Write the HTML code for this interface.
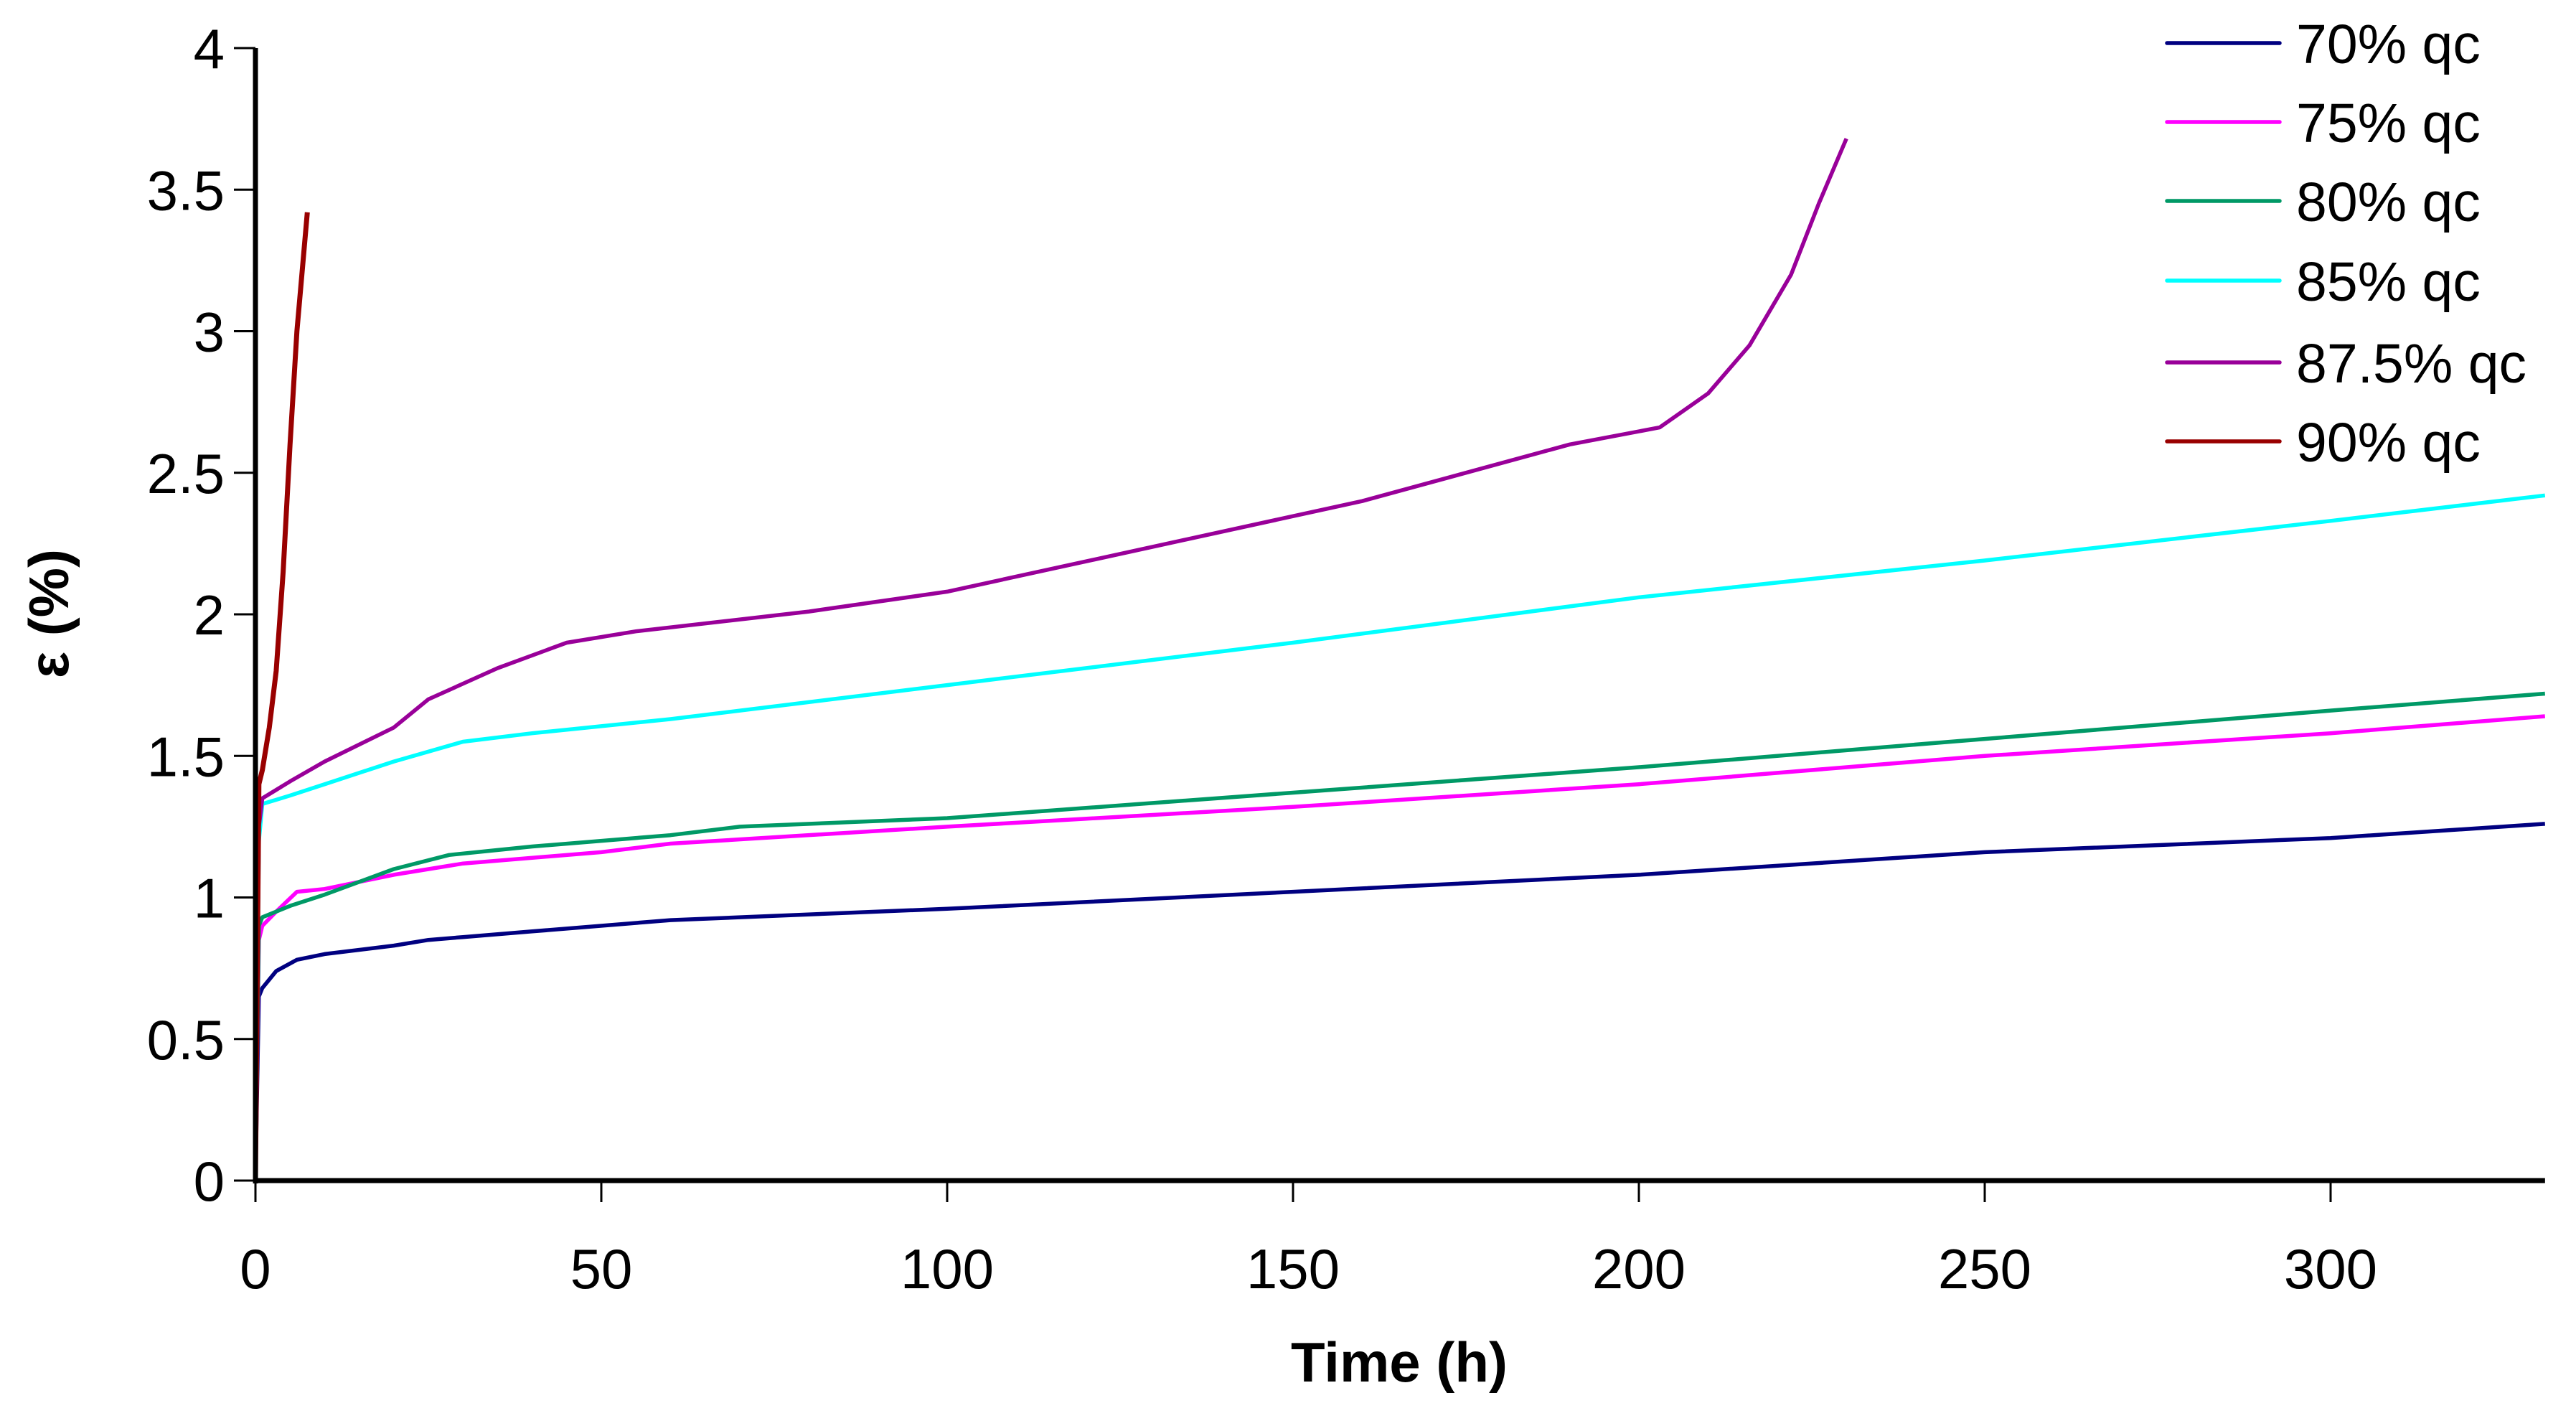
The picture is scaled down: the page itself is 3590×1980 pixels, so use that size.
<!DOCTYPE html>
<html><head><meta charset="utf-8"><style>
html,body{margin:0;padding:0;background:#fff;}
svg text{font-family:"Liberation Sans",Arial,sans-serif;fill:#000;}
</style></head><body>
<svg id="chart" width="3590" height="1975" viewBox="0 0 3590 1975" xmlns="http://www.w3.org/2000/svg">
<g id="grid"></g><g id="series"></g><g id="axes"></g><g id="legend"></g>
<text x="0" y="0" font-size="78" font-weight="bold" text-anchor="middle" transform="translate(95,855) rotate(-90)">ε (%)</text>
<text x="1950" y="1925" font-size="78" font-weight="bold" text-anchor="middle">Time (h)</text>
</svg>
<script>
const seriesNames = ["70% qc","75% qc","80% qc","85% qc","87.5% qc","90% qc"];
const seriesColors = ["#000080","#ff00ff","#009966","#00ffff","#990099","#990000"];
const xTicks = [0,50,100,150,200,250,300];
const yTicks = [0,0.5,1,1.5,2,2.5,3,3.5,4];
const s70 = [[0,0],[0.3,0.4],[0.5,0.65],[1,0.68],[3,0.74],[6,0.78],[10,0.8],[20,0.83],[25,0.85],[30,0.86],[40,0.88],[60,0.92],[100,0.96],[150,1.02],[200,1.08],[250,1.16],[300,1.21],[331,1.26]];
const s75 = [[0,0],[0.5,0.85],[1,0.9],[3,0.95],[6,1.02],[10,1.03],[20,1.08],[30,1.12],[50,1.16],[60,1.19],[100,1.25],[150,1.32],[200,1.4],[250,1.5],[300,1.58],[331,1.64]];
const s80 = [[0,0],[0.5,0.9],[1,0.93],[5,0.97],[10,1.01],[20,1.1],[28,1.15],[40,1.18],[60,1.22],[70,1.25],[100,1.28],[150,1.37],[200,1.46],[250,1.56],[300,1.66],[331,1.72]];
const s85 = [[0,0],[0.5,1.2],[1,1.33],[5,1.36],[10,1.4],[20,1.48],[30,1.55],[40,1.58],[60,1.63],[100,1.75],[150,1.9],[200,2.06],[250,2.19],[300,2.33],[331,2.42]];
const s875 = [[0,0],[0.5,1.25],[1,1.35],[5,1.41],[10,1.48],[20,1.6],[25,1.7],[35,1.81],[45,1.9],[55,1.94],[80,2.01],[100,2.08],[130,2.24],[160,2.4],[190,2.6],[203,2.66],[210,2.78],[216,2.95],[222,3.2],[226,3.45],[230,3.68]];
const s90 = [[0,0],[0.5,1.4],[1,1.45],[2,1.6],[3,1.8],[4,2.15],[5,2.6],[6,3.0],[7.5,3.42]];
const allSeries = [s70,s75,s80,s85,s875,s90];

const X0=356, XPX=9.64, XMAX=331, Y0=1645, YPX=394.5;
function xs(v){return X0+v*XPX;}
function ys(v){return Y0-v*YPX;}
const NS="http://www.w3.org/2000/svg";
function mk(tag,attrs,parent){const e=document.createElementNS(NS,tag);for(const k in attrs)e.setAttribute(k,attrs[k]);parent.appendChild(e);return e;}
const axes=document.getElementById('axes'), ser=document.getElementById('series'), leg=document.getElementById('legend');

allSeries.forEach((s,i)=>{
  const p=mk('polyline',{points:s.map(d=>xs(d[0]).toFixed(1)+','+ys(d[1]).toFixed(1)).join(' '),fill:'none',stroke:seriesColors[i],'stroke-width':i===5?7:5.5,'stroke-linejoin':'round'},ser);
  
  
});

const ya=mk('line',{x1:X0,y1:ys(4),x2:X0,y2:Y0+4,stroke:'#000','stroke-width':7},axes);


const xa=mk('line',{x1:X0-3,y1:Y0,x2:xs(XMAX),y2:Y0,stroke:'#000','stroke-width':7},axes);



yTicks.forEach(v=>{
  const t=mk('line',{x1:X0-30,y1:ys(v),x2:X0,y2:ys(v),stroke:'#000','stroke-width':3},axes);
  
  
  const l=mk('text',{x:313,y:ys(v)+28,'font-size':78,'text-anchor':'end'},axes);
  l.textContent=String(v);
  
  
});
xTicks.forEach(v=>{
  const t=mk('line',{x1:xs(v),y1:Y0,x2:xs(v),y2:Y0+30,stroke:'#000','stroke-width':3},axes);
  
  
  const l=mk('text',{x:xs(v),y:1795,'font-size':78,'text-anchor':'middle'},axes);
  l.textContent=String(v);
  
  
});

const legY=[60,170,280,391,505,615];
seriesNames.forEach((n,i)=>{
  const g=mk('g',{},leg);
  
  
  mk('line',{x1:3020,y1:legY[i],x2:3177,y2:legY[i],stroke:seriesColors[i],'stroke-width':5.5,'stroke-linecap':'round'},g);
  const t=mk('text',{x:3200,y:legY[i]+28,'font-size':77},g);
  t.textContent=n;
});
</script>
</body></html>
